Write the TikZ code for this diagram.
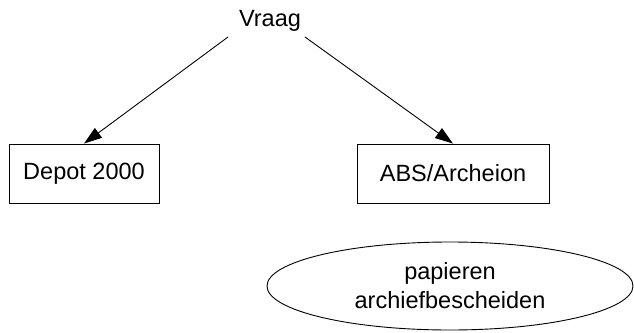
\documentclass[tikz,border=0pt]{standalone}
\usepackage{fontspec}
\setmainfont{Liberation Sans}
\usetikzlibrary{shapes.geometric,arrows.meta,calc}
\begin{document}
\begin{tikzpicture}[x=1pt,y=-1pt,
  every node/.style={font=\fontsize{23.5}{29}\selectfont},
  boxnode/.style={draw,line width=0.9pt,rectangle,inner sep=0pt,minimum height=59pt},
  ovalnode/.style={draw,line width=0.9pt,ellipse,inner sep=0pt,minimum width=366pt,minimum height=88pt,align=center},
  arr/.style={line width=0.9pt,-{Triangle[length=18pt,width=12pt]}}]
\useasboundingbox (0,0) rectangle (634,332);
\node[anchor=base] (vraag) at (270,27) {Vraag};
\node[boxnode,minimum width=150pt] (depot) at (84,173.5) {Depot 2000};
\node[boxnode,minimum width=192pt] (abs) at (453,173.5) {ABS/Archeion};
\node[ovalnode] (pap) at (450,286) {papieren\\archiefbescheiden};
\draw[arr] ($(vraag.base)+(-42,10)$) -- (depot.north);
\draw[arr] ($(vraag.base)+(35,10)$) -- (abs.north);
\end{tikzpicture}
\end{document}
